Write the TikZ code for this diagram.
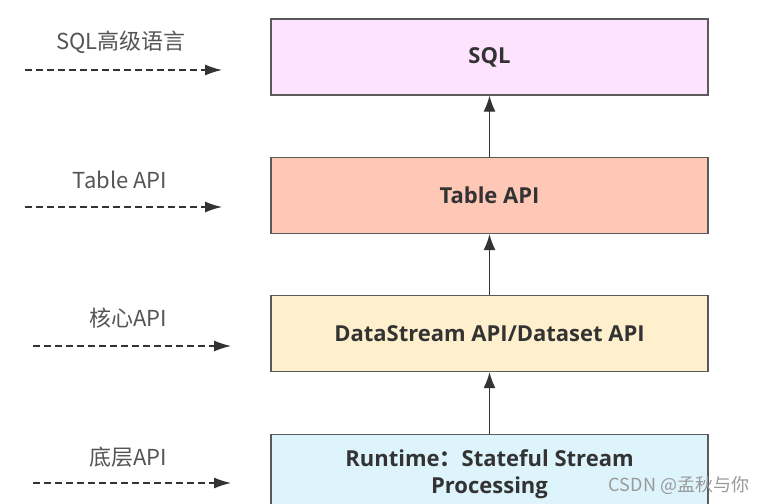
\documentclass[tikz,border=0pt]{standalone}
\usepackage{fontspec}
\setmainfont{Open Sans}
\newfontfamily\cjk{Noto Sans CJK SC}
\usetikzlibrary{arrows.meta,positioning}

\definecolor{sqlpink}{HTML}{FDE3FD}
\definecolor{tablesalmon}{HTML}{FFC7B6}
\definecolor{corecream}{HTML}{FFF0CD}
\definecolor{runtimeblue}{HTML}{DDF4FD}
\definecolor{edgegray}{HTML}{5A5A5A}
\definecolor{labelgray}{HTML}{555555}

\tikzset{
    layer/.style={draw=edgegray, line width=1.3pt, minimum width=437pt, minimum height=76pt,
        text=black!80, font=\fontsize{22}{27}\selectfont\bfseries, align=center, inner sep=0pt},
    uparrow/.style={draw=black!80, line width=1.3pt, -{Latex[length=16pt,width=12pt]}},
    sidelabel/.style={text=labelgray, font=\cjk\fontsize{22}{24}\selectfont, inner sep=0pt},
    sidearrow/.style={draw=black!80, line width=1.3pt, dash pattern=on 7pt off 4pt,
        -{Latex[length=17pt,width=11pt]}}
}

\begin{document}
\begin{tikzpicture}[x=1pt,y=-1pt]

        \useasboundingbox (0,0) rectangle (762,503);
        \clip (0,0) rectangle (762,503);
        \fill[white] (0,0) rectangle (762,503);

        % layers
        \node[layer, fill=sqlpink] (sql) at (489.5,57) {SQL};
        \node[layer, fill=tablesalmon] (table) at (489.5,195.5) {Table API};
        \node[layer, fill=corecream] (core) at (489.5,333.5) {DataStream API/Dataset API};
        \node[layer, fill=runtimeblue, minimum height=110pt, anchor=north] (runtime) at (489.5,434) {};
        \node[layer, draw=none, minimum width=0pt, minimum height=0pt] (runtimetext) at (489.5,474)
            {Runtime{\cjk\bfseries ：}Stateful Stream\\Processing};

        \draw[uparrow] (table.north) -- (sql.south);
        \draw[uparrow] (core.north) -- (table.south);
        \draw[uparrow] (runtime.north) -- (core.south);

        % left side
        \node[sidelabel] (lsql) at (121,42) {SQL高级语言};
        \node[sidelabel] (ltable) at (120,180) {Table API};
        \node[sidelabel] (lcore) at (128,318) {核心API};
        \node[sidelabel] (lbase) at (128,457) {底层API};

        \coordinate (asql0) at (25,70);   \coordinate (asql1) at (222,70);
        \coordinate (atab0) at (25,207);  \coordinate (atab1) at (222,207);
        \coordinate (acor0) at (33,346);  \coordinate (acor1) at (231,346);
        \coordinate (abas0) at (33,483);  \coordinate (abas1) at (231,483);

        \draw[sidearrow] (asql0) -- (asql1);
        \draw[sidearrow] (atab0) -- (atab1);
        \draw[sidearrow] (acor0) -- (acor1);
        \draw[sidearrow] (abas0) -- (abas1);

        \node[text=black!40, font=\cjk\fontsize{18}{20}\selectfont, inner sep=0pt] (mark) at (679,485) {CSDN @孟秋与你};

\end{tikzpicture}
\end{document}
